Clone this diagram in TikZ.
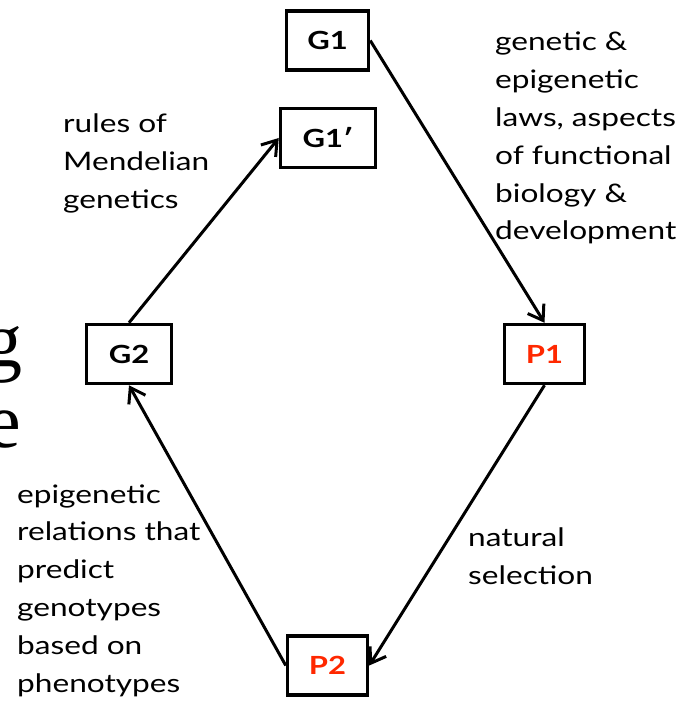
\documentclass[tikz,border=0pt]{standalone}
\usepackage{fontspec}
\setmainfont[FakeStretch=1.24]{Lato}
\newfontfamily\serifbig{Liberation Serif}
\usetikzlibrary{arrows.meta}
\definecolor{pred}{RGB}{255,40,0}
\tikzset{
  box/.style={draw, line width=3.5pt, inner sep=0pt, minimum height=59pt, font=\fontsize{25}{30}\selectfont\bfseries},
  lbl/.style={inner sep=0pt, anchor=base west, align=left, font=\fontsize{25.5}{37.8}\selectfont},
  conn/.style={line width=3pt, -{Straight Barb[length=14pt,width=19pt,line width=3pt]}},
}
\begin{document}
\begin{tikzpicture}[x=1pt,y=-1pt]
\useasboundingbox (0,0) rectangle (696,703);
\begin{scope}
\clip (0,0) rectangle (696,703);
\node[inner sep=0pt, anchor=base east, font=\serifbig\fontsize{78}{80}\selectfont] (bg) at (23,366) {g};
\node[inner sep=0pt, anchor=base east, font=\serifbig\fontsize{78}{80}\selectfont] (be) at (21,447) {e};
\end{scope}
\node[box, minimum width=82pt] (G1) at (327.5,40.5) {G1};
\node[box, minimum width=95pt] (G1p) at (328,138) {G1′};
\node[box, minimum width=85pt] (G2) at (129,354) {G2};
\node[box, minimum width=80pt, text=pred] (P1) at (544.5,354) {P1};
\node[box, minimum width=80pt, text=pred] (P2) at (327.5,665.5) {P2};
\draw[conn] (G1.east) -- (P1.north);
\draw[conn] (P1.south) -- (P2.east);
\draw[conn] (P2.west) -- (G2.south);
\draw[conn] (G2.north) -- (G1p.west);
\node[lbl] (t1) at (495,240) {genetic \&\\epigenetic\\laws, aspects\\of functional\\biology \&\\development};
\node[lbl] (t2) at (63,208) {rules of\\Mendelian\\genetics};
\node[lbl] (t3) at (468,584) {natural\\selection};
\node[lbl] (t4) at (17,692) {epigenetic\\relations that\\predict\\genotypes\\based on\\phenotypes};
\end{tikzpicture}
\end{document}
